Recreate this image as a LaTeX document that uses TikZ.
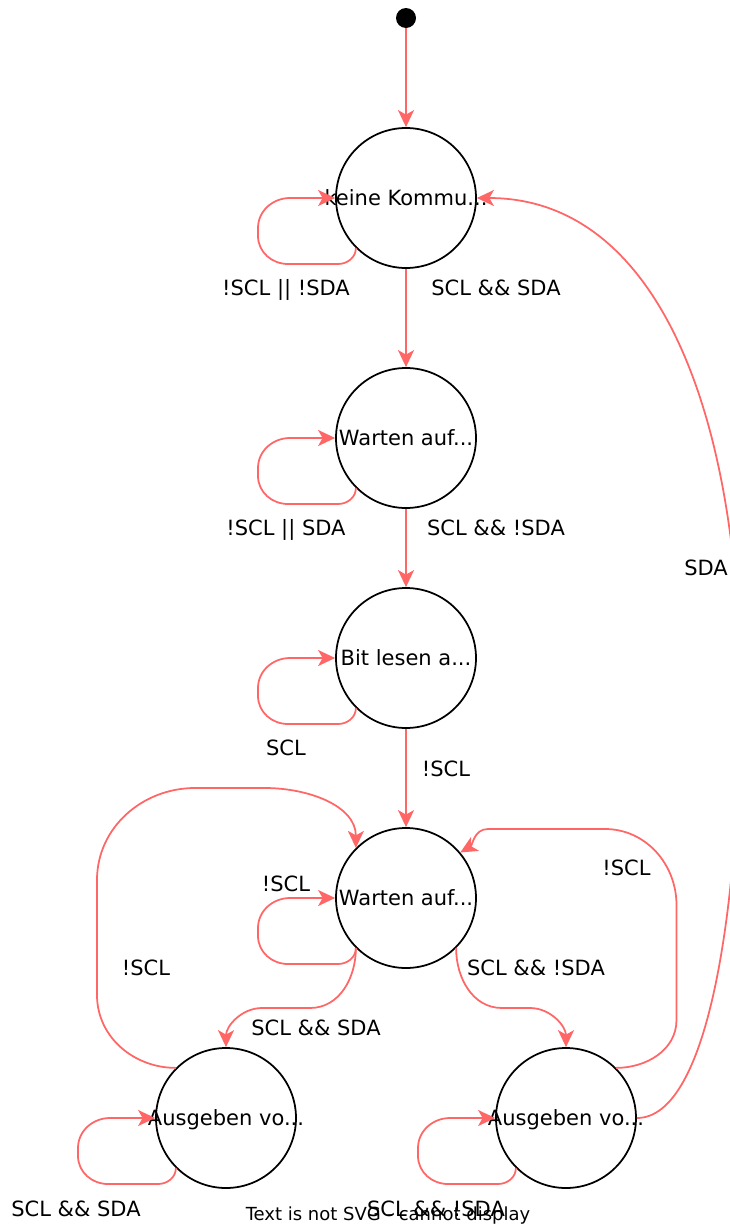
\documentclass[tikz,border=0pt]{standalone}
\usepackage{fontspec}
\setmainfont{DejaVu Sans}
\usetikzlibrary{arrows.meta}
\definecolor{kante}{HTML}{FF6666}

\begin{document}
\begin{tikzpicture}[x=1pt,y=1pt,
  zustand/.style={circle,draw=black,line width=1.75pt,minimum size=140pt,inner sep=0pt},
  ztext/.style={inner sep=0pt,text height=15.5pt,text depth=0pt,font=\fontsize{21}{25}\selectfont},
  pfeil/.style={draw=kante,line width=1.75pt,-{Stealth[length=17pt,width=16pt,inset=4.5pt]}},
  lab/.style={anchor=base,inner sep=0pt,font=\fontsize{21}{25}\selectfont}]
\useasboundingbox (0,0) rectangle (730,-1229);
\node[circle,fill=black,minimum size=20pt,inner sep=0pt] (start) at (406,-18) {};
\node[zustand,label={[ztext]center:keine Kommu...}] (keine) at (406,-198) {};
\node[zustand,label={[ztext]center:Warten auf...}] (wartenA) at (406,-438) {};
\node[zustand,label={[ztext]center:Bit lesen a...}] (bitlesen) at (406,-658) {};
\node[zustand,label={[ztext]center:Warten auf...}] (wartenB) at (406,-898) {};
\node[zustand,label={[ztext]center:Ausgeben vo...}] (ausgebenA) at (226,-1118) {};
\node[zustand,label={[ztext]center:Ausgeben vo...}] (ausgebenB) at (566,-1118) {};
\draw[pfeil] (start) -- (keine); \draw[pfeil] (keine) -- (wartenA);
\draw[pfeil] (wartenA) -- (bitlesen); \draw[pfeil] (bitlesen) -- (wartenB);
\draw[pfeil] (keine.225) to[out=-90,in=0] (338,-264) -- (288,-264) to[out=180,in=-90] (258,-236) -- (258,-228) to[out=90,in=180] (290,-198) -- (keine.west);
\draw[pfeil] (wartenA.225) to[out=-90,in=0] (338,-504) -- (288,-504) to[out=180,in=-90] (258,-476) -- (258,-468) to[out=90,in=180] (290,-438) -- (wartenA.west);
\draw[pfeil] (bitlesen.225) to[out=-90,in=0] (338,-724) -- (288,-724) to[out=180,in=-90] (258,-696) -- (258,-688) to[out=90,in=180] (290,-658) -- (bitlesen.west);
\draw[pfeil] (wartenB.225) to[out=-90,in=0] (338,-964) -- (288,-964) to[out=180,in=-90] (258,-936) -- (258,-928) to[out=90,in=180] (290,-898) -- (wartenB.west);
\draw[pfeil] (ausgebenA.225) to[out=-90,in=0] (158,-1184) -- (108,-1184) to[out=180,in=-90] (78,-1156) -- (78,-1148) to[out=90,in=180] (110,-1118) -- (ausgebenA.west);
\draw[pfeil] (ausgebenB.225) to[out=-90,in=0] (498,-1184) -- (448,-1184) to[out=180,in=-90] (418,-1156) -- (418,-1148) to[out=90,in=180] (450,-1118) -- (ausgebenB.west);
\draw[pfeil] (wartenB.225) to[out=-90,in=0] (310,-1008) -- (262,-1008) to[out=180,in=90] (ausgebenA.north);
\draw[pfeil] (wartenB.-45) to[out=-90,in=180] (502,-1008) -- (530,-1008) to[out=0,in=90] (ausgebenB.north);
\draw[pfeil] (ausgebenA.135) to[out=180,in=-90] (97,-995) -- (97,-880) to[out=90,in=180] (195,-788) -- (265,-788) to[out=0,in=90] (wartenB.135);
\draw[pfeil] (ausgebenB.45) to[out=0,in=-90] (676.5,-1020) -- (676.5,-905) to[out=90,in=0] (605,-829) -- (488,-829) to[out=180,in=30] (wartenB.40);
\draw[pfeil] (ausgebenB.east) .. controls (710,-1118) and (740,-900) .. (740,-690) .. controls (740,-420) and (660,-198) .. (keine.east);
\node[lab] (l1) at (286,-295) {!SCL || !SDA}; \node[lab] (l2) at (496,-295) {SCL \&\& SDA};
\node[lab] (l3) at (286,-535) {!SCL || SDA}; \node[lab] (l4) at (496,-535) {SCL \&\& !SDA};
\node[lab] (l5) at (706,-575) {SDA};
\node[lab] (l6) at (286,-755.5) {SCL}; \node[lab] (l7) at (446,-776) {!SCL};
\node[lab] (l8) at (286,-891.5) {!SCL}; \node[lab] (l9) at (626.5,-875.5) {!SCL};
\node[lab] (l10) at (146,-975.5) {!SCL}; \node[lab] (l11) at (536,-975.5) {SCL \&\& !SDA};
\node[lab] (l12) at (316,-1035.5) {SCL \&\& SDA};
\node[lab] (l13) at (76,-1216) {SCL \&\& SDA}; \node[lab] (l14) at (436,-1216) {SCL \&\& !SDA};
\node[lab,font=\fontsize{18}{21}\selectfont] (warn) at (388,-1220) {Text is not SVG - cannot display};
\end{tikzpicture}
\end{document}
